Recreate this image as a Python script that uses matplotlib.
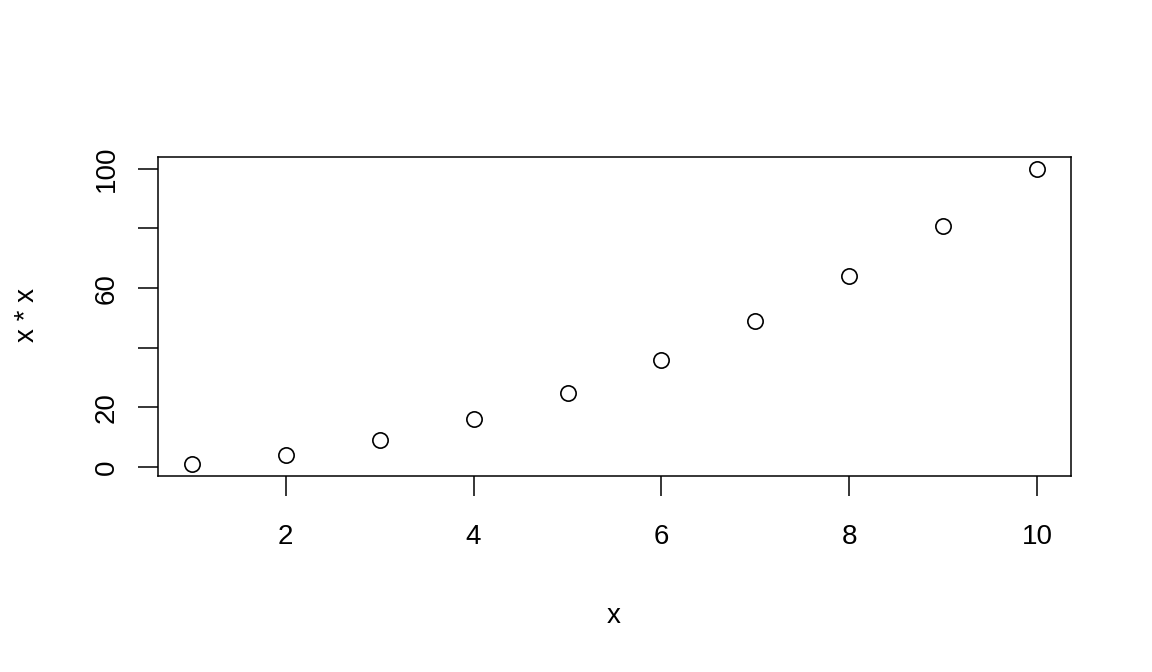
import numpy as np
import matplotlib
matplotlib.use("Agg")
import matplotlib.pyplot as plt

plt.rcParams['font.family'] = ['Liberation Sans', 'DejaVu Sans']

# data
x = [1, 2, 3, 4, 5, 6, 7, 8, 9, 10]
y = [1, 4, 9, 16, 25, 36, 49, 64, 81, 100]
xticks = [2, 4, 6, 8, 10]
yticks = [0, 20, 40, 60, 80, 100]
ytick_labels = ['0', '20', '', '60', '', '100']

fig = plt.figure(figsize=(11.52, 6.72), dpi=100)
ax = fig.add_axes([158/1152, 1 - 476/672, (1071 - 158)/1152, (476 - 157)/672])

ax.plot(x, y, linestyle='none', marker='o', markersize=11,
        markerfacecolor='none', markeredgecolor='black', markeredgewidth=1.2)

# R-style 4% padding
ax.set_xlim(1 - 0.36, 10 + 0.36)
ax.set_ylim(1 - 3.96, 100 + 3.96)

ax.set_xticks(xticks)
ax.set_xticklabels([str(t) for t in xticks])
ax.set_yticks(yticks)
ax.set_yticklabels(ytick_labels, rotation=90, va='center')

ax.tick_params(axis='both', direction='out', length=14.4, width=1.1,
               labelsize=20, color='black')
ax.tick_params(axis='x', pad=20)
ax.tick_params(axis='y', pad=13)

for s in ax.spines.values():
    s.set_linewidth(1.1)

fig.text(614/1152, 1 - 623/672, 'x', ha='center', va='baseline', fontsize=20)
fig.text(34/1152, 1 - 315/672, 'x * x', ha='center', va='baseline',
         rotation=90, rotation_mode='anchor', fontsize=20)

fig.savefig('out.png', dpi=100, facecolor='white')
